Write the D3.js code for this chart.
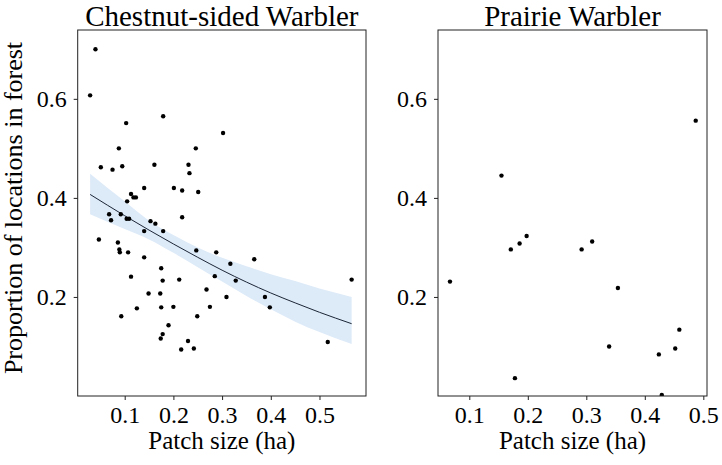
<!DOCTYPE html>
<html lang="en">

<head>
    <meta charset="UTF-8">
    <title>Warbler patch size</title>
    <style>
        body { margin: 0; background: white; }
        text { font-family: "Liberation Serif", "Times New Roman", serif; fill: black; }
        .axis path, .axis line { stroke: #222; }
    </style>
</head>

<body>
    <div id="my_dataviz"></div>

    <script src="https://d3js.org/d3.v7.min.js"></script>
    <script>
        // Chestnut-sided Warbler observations (patch size, proportion in forest)
        var csPatch = [0.040, 0.029, 0.179, 0.103, 0.302, 0.088, 0.246, 0.051, 0.075, 0.095,
            0.161, 0.231, 0.233, 0.140, 0.201, 0.218, 0.251, 0.113, 0.118, 0.123,
            0.105, 0.218, 0.068, 0.092, 0.072, 0.104, 0.109, 0.153, 0.163, 0.140,
            0.179, 0.047, 0.086, 0.089, 0.090, 0.107, 0.140, 0.175, 0.178, 0.212,
            0.113, 0.149, 0.173, 0.125, 0.175, 0.200, 0.093, 0.190, 0.178, 0.174,
            0.230, 0.216, 0.242, 0.268, 0.249, 0.275, 0.247, 0.288, 0.285, 0.317,
            0.366, 0.328, 0.309, 0.388, 0.398, 0.517, 0.566];
        var csForest = [0.700, 0.607, 0.565, 0.551, 0.531, 0.500, 0.500, 0.462, 0.457, 0.464,
            0.467, 0.467, 0.450, 0.420, 0.420, 0.415, 0.412, 0.408, 0.401, 0.401,
            0.393, 0.361, 0.367, 0.367, 0.355, 0.358, 0.358, 0.353, 0.348, 0.333,
            0.333, 0.316, 0.310, 0.296, 0.290, 0.290, 0.280, 0.258, 0.233, 0.235,
            0.241, 0.207, 0.207, 0.177, 0.179, 0.180, 0.161, 0.143, 0.125, 0.116,
            0.111, 0.094, 0.096, 0.215, 0.161, 0.180, 0.294, 0.290, 0.242, 0.267,
            0.276, 0.233, 0.200, 0.200, 0.179, 0.109, 0.235];

        // fitted curve and confidence band
        var fitPatch = [0.029, 0.10, 0.15, 0.20, 0.25, 0.30, 0.35, 0.40, 0.45, 0.50, 0.566];
        var fitMean = [0.407, 0.364, 0.335, 0.307, 0.280, 0.254, 0.230, 0.208, 0.188, 0.169, 0.146];
        var fitLower = [0.367, 0.337, 0.316, 0.289, 0.260, 0.231, 0.202, 0.175, 0.150, 0.129, 0.105];
        var fitUpper = [0.449, 0.393, 0.354, 0.325, 0.300, 0.279, 0.262, 0.246, 0.232, 0.217, 0.200];

        // Prairie Warbler observations
        var pwPatch = [0.487, 0.155, 0.171, 0.186, 0.198, 0.292, 0.310, 0.067, 0.354, 0.339,
            0.424, 0.452, 0.459, 0.178, 0.429];
        var pwForest = [0.556, 0.445, 0.296, 0.308, 0.323, 0.296, 0.312, 0.231, 0.218, 0.100,
            0.084, 0.096, 0.134, 0.036, 0.002];

        var xTicks = [0.1, 0.2, 0.3, 0.4, 0.5];
        var yTicks = [0.2, 0.4, 0.6];

        var width = 722, height = 465;
        var plotTop = 30, plotBottom = 396;

        var svg = d3.select("#my_dataviz")
            .append("svg")
            .attr("width", width)
            .attr("height", height);

        // shared y scale
        var y = d3.scaleLinear()
            .domain([0, 0.739])
            .range([plotBottom, plotTop]);

        function panel(id, left, right, xDomain, title) {
            var x = d3.scaleLinear().domain(xDomain).range([left, right]);

            svg.append("clipPath")
                .attr("id", id)
                .append("rect")
                .attr("x", left).attr("y", plotTop)
                .attr("width", right - left).attr("height", plotBottom - plotTop);

            var g = svg.append("g");
            var plot = g.append("g").attr("clip-path", "url(#" + id + ")");

            // x axis
            g.append("g")
                .attr("class", "axis")
                .attr("transform", "translate(0," + plotBottom + ")")
                .call(d3.axisBottom(x).tickValues(xTicks).tickSize(4).tickPadding(6)
                    .tickFormat(d3.format(".1f")))
                .call(function (a) { a.select(".domain").remove(); })
                .selectAll("text").style("font-size", "24px");

            // y axis
            g.append("g")
                .attr("class", "axis")
                .attr("transform", "translate(" + left + ",0)")
                .call(d3.axisLeft(y).tickValues(yTicks).tickSize(4).tickPadding(7)
                    .tickFormat(d3.format(".1f")))
                .call(function (a) { a.select(".domain").remove(); })
                .selectAll("text").style("font-size", "24px");

            // frame
            g.append("rect")
                .attr("x", left).attr("y", plotTop)
                .attr("width", right - left).attr("height", plotBottom - plotTop)
                .attr("fill", "none")
                .attr("stroke", "#222")
                .attr("stroke-width", 1);

            g.append("text")
                .attr("x", (left + right) / 2)
                .attr("y", 26)
                .attr("text-anchor", "middle")
                .style("font-size", "29px")
                .text(title);

            g.append("text")
                .attr("x", (left + right) / 2)
                .attr("y", 449)
                .attr("text-anchor", "middle")
                .style("font-size", "25px")
                .text("Patch size (ha)");

            return { x: x, plot: plot };
        }

        // left panel
        var p1 = panel("clipA", 77.7, 366, [0.0035, 0.5955], "Chestnut-sided Warbler");

        var fit = fitPatch.map(function (d, i) {
            return { x: d, m: fitMean[i], lo: fitLower[i], hi: fitUpper[i] };
        });

        p1.plot.append("path")
            .datum(fit)
            .attr("fill", "#ddeaf8")
            .attr("d", d3.area()
                .curve(d3.curveMonotoneX)
                .x(function (d) { return p1.x(d.x); })
                .y0(function (d) { return y(d.lo); })
                .y1(function (d) { return y(d.hi); }));

        p1.plot.append("path")
            .datum(fit)
            .attr("fill", "none")
            .attr("stroke", "#1c2636")
            .attr("stroke-width", 1)
            .attr("d", d3.line()
                .curve(d3.curveMonotoneX)
                .x(function (d) { return p1.x(d.x); })
                .y(function (d) { return y(d.m); }));

        p1.plot.selectAll("circle")
            .data(csPatch)
            .enter()
            .append("circle")
            .attr("cx", function (d) { return p1.x(d); })
            .attr("cy", function (d, i) { return y(csForest[i]); })
            .attr("r", 2.2)
            .attr("fill", "black");

        // right panel
        var p2 = panel("clipB", 438, 707, [0.0465, 0.5063], "Prairie Warbler");

        p2.plot.selectAll("circle")
            .data(pwPatch)
            .enter()
            .append("circle")
            .attr("cx", function (d) { return p2.x(d); })
            .attr("cy", function (d, i) { return y(pwForest[i]); })
            .attr("r", 2.2)
            .attr("fill", "black");

        // shared y label
        svg.append("text")
            .attr("transform", "translate(22,208) rotate(-90)")
            .attr("text-anchor", "middle")
            .style("font-size", "26px")
            .text("Proportion of locations in forest");
    </script>
</body>

</html>
